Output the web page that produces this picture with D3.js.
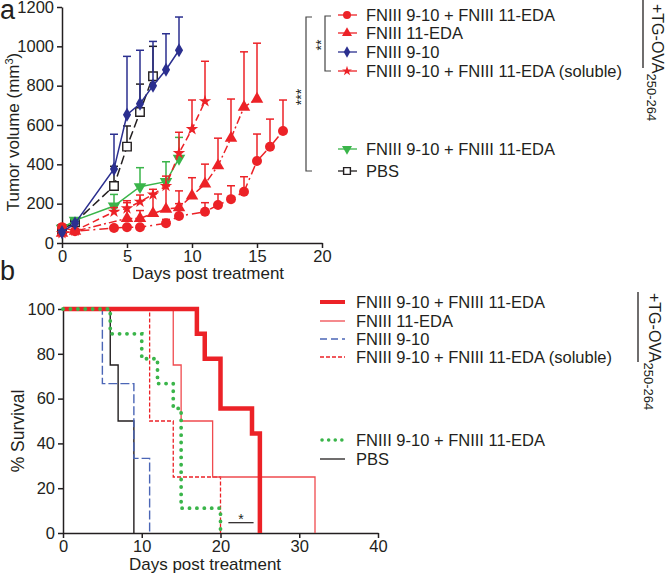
<!DOCTYPE html>
<html><head><meta charset="utf-8">
<script src="https://cdn.jsdelivr.net/npm/d3@7"></script>
<style>
body{margin:0;background:#fff;}
svg{display:block;font-family:"Liberation Sans",Arial,sans-serif;}
</style></head><body>
<svg id="c" width="666" height="577"></svg>
<script>
// ---------- Panel a data ----------
const aXTicks = [0,5,10,15,20];
const aYTicks = [0,200,400,600,800,1000,1200];
const circDays = [0,1,4,5,6,8,9,11,12,13,14,15,16,17];
const circVals = [80,60,76,80,80,100,137,159,193,223,261,417,489,569];
const circErr  = [95,70,85,90,90,120,200,205,249,291,337,554,630,727];
const triDays = [0,1,5,6,7,8,9,10,11,12,13,14,15];
const triVals = [50,60,125,125,150,172,180,240,300,393,533,691,732];
const triErr  = [60,70,205,165,250,290,265,332,401,533,732,972,1016];
const diaDays = [0,1,4,5,6,7,8,9];
const diaVals = [55,100,376,652,708,800,881,980];
const diaErr  = [65,110,553,949,980,1025,1064,1149];
const starDays = [0,1,4,5,6,7,8,9,10,11];
const starVals = [50,62,159,176,210,247,290,457,579,721];
const starErr  = [58,70,180,215,244,273,340,563,727,924];
const greenDays = [0,1,4,6,8,9];
const greenVals = [75,115,188,286,312,430];
const greenErr  = [85,125,247,383,413,537];
const pbsDays = [0,1,4,5,6,7];
const pbsVals = [70,105,290,490,666,848];
const pbsErr  = [80,115,390,595,808,1000];
const legendA = ["FNIII 9-10 + FNIII 11-EDA","FNIII 11-EDA","FNIII 9-10","FNIII 9-10 + FNIII 11-EDA (soluble)","FNIII 9-10 + FNIII 11-EDA","PBS"];

// ---------- Panel b data ----------
const bXTicks = [0,10,20,30,40];
const bYTicks = [0,20,40,60,80,100];
const survRedThickT = [0,17,18,20,24,25];
const survRedThickS = [100,88.9,77.8,55.6,44.4,0];
const survRedThinT = [0,14,15,19,32];
const survRedThinS = [100,75,50,25,0];
const survRedDashT = [0,11,14,20];
const survRedDashS = [100,50,25,0];
const survBlueT = [0,5,9,11];
const survBlueS = [100,66.7,33.3,0];
const survPbsT = [0,6,7,9];
const survPbsS = [100,75,50,0];
const survGreenT = [0,6,10,12,14,15,20];
const survGreenS = [100,88.9,77.8,66.7,55.6,11.1,0];
const legendB = legendA;

const RED="#ec2227", BLUE="#2b2f8f", GREEN="#3ab54a", BLACK="#231f20", BLUEB="#4b66b6", REDT="#f04b4f";
const FONT = "'Liberation Sans',Arial,sans-serif";
const svg = d3.select("#c");
const zip = (a,b,c)=>a.map((d,i)=>({x:d,y:b[i],e:c?c[i]:null}));

// ---------- Panel a ----------
const xa = d3.scaleLinear().domain([0,20]).range([62,322]);
const ya = d3.scaleLinear().domain([0,1200]).range([243,7]);
const ga = svg.append("g");
function styleAxis(g){
  g.attr("font-family",FONT).attr("font-size",16.5);
  g.selectAll("path.domain").attr("stroke",BLACK).attr("stroke-width",1.5);
  g.selectAll(".tick line").attr("stroke",BLACK).attr("stroke-width",1.5);
  g.selectAll(".tick text").attr("fill",BLACK);
}
ga.append("g").attr("transform","translate(0,243)")
  .call(d3.axisBottom(xa).tickValues(aXTicks).tickFormat(d3.format("d")).tickSize(5).tickSizeOuter(0).tickPadding(2)).call(styleAxis);
ga.append("g").attr("transform","translate(62,0)")
  .call(d3.axisLeft(ya).tickValues(aYTicks).tickFormat(d3.format("d")).tickSize(5).tickSizeOuter(0).tickPadding(3)).call(styleAxis);

const seriesA = [
  {d:zip(pbsDays,pbsVals,pbsErr), c:BLACK, dash:"9,4", m:"square"},
  {d:zip(greenDays,greenVals,greenErr), c:GREEN, dash:null, m:"triDown"},
  {d:zip(starDays,starVals,starErr), c:RED, dash:"7,4", m:"star"},
  {d:zip(triDays,triVals,triErr), c:RED, dash:"8,3,2,3", m:"tri"},
  {d:zip(circDays,circVals,circErr), c:RED, dash:"9,4,2,4", m:"circle"},
  {d:zip(diaDays,diaVals,diaErr), c:BLUE, dash:null, m:"diamond"}
];
const sym = {circle:[d3.symbolCircle,78], tri:[d3.symbolTriangle,68], triDown:[d3.symbolTriangle,68], diamond:[d3.symbolDiamond,58], star:[d3.symbolStar,48], square:[d3.symbolSquare,72]};
function drawMarker(g, m, c, x, y, scale){
  const s = sym[m];
  const p = g.append("path").attr("d",d3.symbol(s[0], s[1]*scale*scale)())
    .attr("transform",`translate(${x},${y})`+(m==="triDown"?" rotate(180)":""));
  if(m==="square") p.attr("fill","#fff").attr("stroke",c).attr("stroke-width",1.4);
  else p.attr("fill",c);
}
const lineA = d3.line().x(d=>xa(d.x)).y(d=>ya(d.y));
seriesA.forEach(s=>{
  const g = ga.append("g");
  s.d.forEach(d=>{
    g.append("line").attr("x1",xa(d.x)).attr("x2",xa(d.x)).attr("y1",ya(d.y)).attr("y2",ya(d.e)).attr("stroke",s.c).attr("stroke-width",1.5);
    g.append("line").attr("x1",xa(d.x)-4).attr("x2",xa(d.x)+4).attr("y1",ya(d.e)).attr("y2",ya(d.e)).attr("stroke",s.c).attr("stroke-width",1.5);
  });
  g.append("path").datum(s.d).attr("d",lineA).attr("fill","none").attr("stroke",s.c).attr("stroke-width",1.5).attr("stroke-dasharray",s.dash);
  s.d.forEach(d=>drawMarker(g,s.m,s.c,xa(d.x),ya(d.y),1));
});

// axis titles a
ga.append("text").attr("x",0).attr("y",19).text("a").attr("fill",BLACK).style("font-size","27px");
ga.append("text").attr("transform","translate(19,132) rotate(-90)").attr("text-anchor","middle").attr("fill",BLACK).style("font-size","17px")
  .html('Tumor volume (mm<tspan dy="-6" font-size="11px">3</tspan><tspan dy="6">)</tspan>');
ga.append("text").attr("x",208).attr("y",279).attr("text-anchor","middle").attr("fill",BLACK).style("font-size","17px").text("Days post treatment");

// legend a
const legAY = [15,33,52,71,149,171];
const legAStyle = [[RED,"circle"],[RED,"tri"],[BLUE,"diamond"],[RED,"star"],[GREEN,"triDown"],[BLACK,"square"]];
legendA.forEach((t,i)=>{
  const y = legAY[i], [c,m] = legAStyle[i];
  ga.append("line").attr("x1",338).attr("x2",357).attr("y1",y).attr("y2",y).attr("stroke",c).attr("stroke-width",1.3);
  drawMarker(ga,m,c,347,y,0.8);
  ga.append("text").attr("x",366).attr("y",y+6).attr("fill",BLACK).style("font-size","16.5px").text(t);
});
// brackets a
function bracket(g,x,y1,y2,w){
  g.append("path").attr("d",`M${x+w},${y1}H${x}V${y2}H${x+w}`).attr("fill","none").attr("stroke","#444").attr("stroke-width",1.2);
}
bracket(ga,306,17,171,6);
bracket(ga,325,16,71,6);
ga.append("text").attr("transform","translate(306,97) rotate(-90)").attr("text-anchor","middle").attr("fill",BLACK).style("font-size","14px").text("***");
ga.append("text").attr("transform","translate(326,45) rotate(-90)").attr("text-anchor","middle").attr("fill",BLACK).style("font-size","14px").text("**");
// TG-OVA labels
function tgLabel(g,lx,ly1,ly2,tx,ty){
  g.append("line").attr("x1",lx).attr("x2",lx).attr("y1",ly1).attr("y2",ly2).attr("stroke",BLACK).attr("stroke-width",1.3);
  g.append("text").attr("transform",`translate(${tx},${ty}) rotate(90)`).attr("fill",BLACK).style("font-size","16px")
    .html('+TG-OVA<tspan dy="5" font-size="13px">250-264</tspan>');
}
tgLabel(ga,643,0,68,652,4);

// ---------- Panel b ----------
const xb = d3.scaleLinear().domain([0,40]).range([63,378]);
const yb = d3.scaleLinear().domain([0,100]).range([533,309]);
const gb = svg.append("g");
gb.append("g").attr("transform","translate(0,533)")
  .call(d3.axisBottom(xb).tickValues(bXTicks).tickFormat(d3.format("d")).tickSize(5).tickSizeOuter(0).tickPadding(2)).call(styleAxis);
gb.append("g").attr("transform","translate(63,0)")
  .call(d3.axisLeft(yb).tickValues(bYTicks).tickFormat(d3.format("d")).tickSize(5).tickSizeOuter(0).tickPadding(3)).call(styleAxis);

const lineB = d3.line().x(d=>xb(d.x)).y(d=>yb(d.y)).curve(d3.curveStepAfter);
const seriesB = [
  {d:zip(survPbsT,survPbsS), c:BLACK, w:1.4, dash:null},
  {d:zip(survBlueT,survBlueS), c:BLUEB, w:1.4, dash:"9,3"},
  {d:zip(survRedDashT,survRedDashS), c:RED, w:1.3, dash:"4,2"},
  {d:zip(survRedThinT,survRedThinS), c:REDT, w:1.3, dash:null},
  {d:zip(survRedThickT,survRedThickS), c:RED, w:4.5, dash:null},
  {d:zip(survGreenT,survGreenS), c:GREEN, w:3.8, dash:"0.1,7.3", cap:"round"}
];
seriesB.forEach(s=>{
  gb.append("path").datum(s.d).attr("d",lineB).attr("fill","none").attr("stroke",s.c).attr("stroke-width",s.w)
    .attr("stroke-dasharray",s.dash).attr("stroke-linecap",s.cap||"butt");
});
// significance
gb.append("line").attr("x1",xb(21)).attr("x2",xb(24.2)).attr("y1",yb(4.6)).attr("y2",yb(4.6)).attr("stroke",BLACK).attr("stroke-width",1.2);
gb.append("text").attr("x",xb(22.6)).attr("y",yb(4.6)+1).attr("text-anchor","middle").attr("fill",BLACK).style("font-size","14px").text("*");

gb.append("text").attr("x",0).attr("y",280).text("b").attr("fill",BLACK).style("font-size","27px");
gb.append("text").attr("transform","translate(24,431) rotate(-90)").attr("text-anchor","middle").attr("fill",BLACK).style("font-size","17.5px").text("% Survival");
gb.append("text").attr("x",205).attr("y",570).attr("text-anchor","middle").attr("fill",BLACK).style("font-size","17px").text("Days post treatment");

const legBY = [302,321,339,357,440,459];
legendB.forEach((t,i)=>{
  const s = [seriesB[4],seriesB[3],seriesB[1],seriesB[2],seriesB[5],seriesB[0]][i];
  const y = legBY[i];
  gb.append("line").attr("x1",i===4?322:320).attr("x2",345).attr("y1",y).attr("y2",y).attr("stroke",s.c)
    .attr("stroke-width",i===0?4:(i===4?3.5:1.3)).attr("stroke-dasharray",i===4?"0.1,6.5":(i===2?"7,4":(i===3?"4,2":null)))
    .attr("stroke-linecap",i===4?"round":"butt");
  gb.append("text").attr("x",356).attr("y",y+6).attr("fill",BLACK).style("font-size","16.5px").text(t);
});
tgLabel(gb,638,292,362,649,293);
</script>
</body></html>
